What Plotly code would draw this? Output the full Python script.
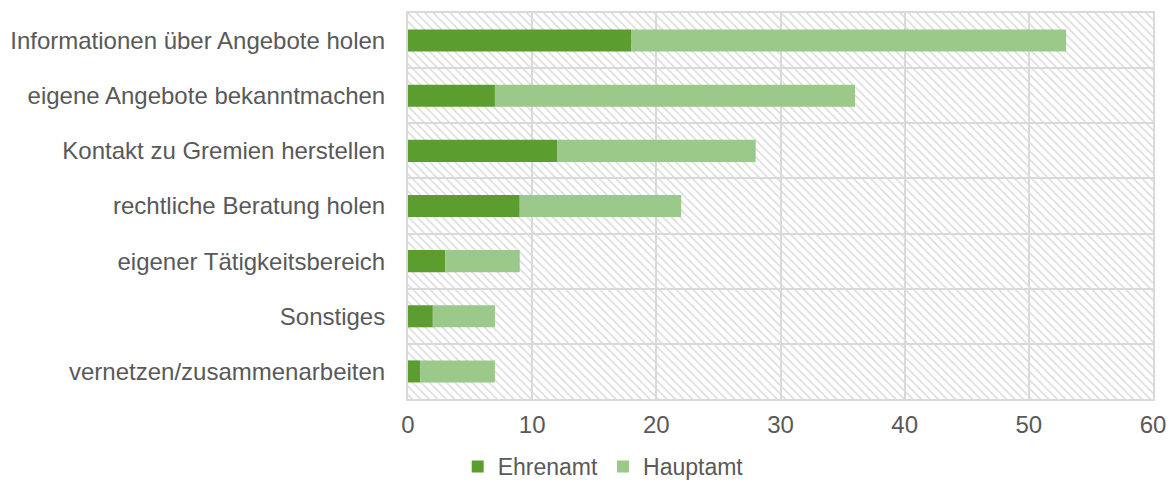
import plotly.graph_objects as go

categories = [
    "Informationen über Angebote holen",
    "eigene Angebote bekanntmachen",
    "Kontakt zu Gremien herstellen",
    "rechtliche Beratung holen",
    "eigener Tätigkeitsbereich",
    "Sonstiges",
    "vernetzen/zusammenarbeiten",
]
ehrenamt = [18, 7, 12, 9, 3, 2, 1]
hauptamt = [35, 29, 16, 13, 6, 5, 6]
x_ticks = [0, 10, 20, 30, 40, 50, 60]

XMAX = x_ticks[-1]
ypos = list(range(len(categories)))
GRID = "#D9D9D9"
TXT = "#595959"
FONT = "Liberation Sans, Arial, sans-serif"
FS = 24

fig = go.Figure()

# hatched plot background
fig.add_trace(go.Bar(
    y=ypos, x=[XMAX] * len(ypos), orientation="h", width=1,
    marker=dict(color="rgba(0,0,0,0)", line=dict(width=0),
                pattern=dict(shape="\\", fgcolor="#DADADA", size=6,
                             solidity=0.25, fillmode="replace")),
    showlegend=False, hoverinfo="skip",
))

fig.add_trace(go.Bar(
    y=ypos, x=ehrenamt, orientation="h", width=0.4, name="Ehrenamt",
    marker=dict(color="#5B9E2F", line=dict(width=0)),
))
fig.add_trace(go.Bar(
    y=ypos, x=hauptamt, base=ehrenamt, orientation="h", width=0.4, name="Hauptamt",
    marker=dict(color="#9BC98A", line=dict(width=0)),
))

fig.update_layout(
    width=1159, height=472,
    margin=dict(l=400, r=14, t=5, b=81, autoexpand=False),
    barmode="overlay",
    paper_bgcolor="white", plot_bgcolor="white",
    font=dict(family=FONT, size=FS, color=TXT),
    legend=dict(orientation="h", x=0.262, xanchor="center", y=-0.175, yanchor="middle",
                font=dict(size=23, color=TXT), traceorder="normal",
                itemwidth=30, tracegroupgap=0),
    xaxis=dict(range=[0, XMAX], tickvals=x_ticks, showgrid=True, gridcolor=GRID,
               gridwidth=2, zeroline=False, showline=True, linecolor=GRID,
               linewidth=2, mirror=True, ticks="", ticklabelstandoff=3,
               ticklabeloverflow="allow", automargin=False,
               tickfont=dict(size=FS, color=TXT)),
    yaxis=dict(range=[len(categories) - 0.5, -0.5], tickvals=ypos, ticktext=categories,
               showgrid=False, zeroline=False, showline=True, linecolor=GRID,
               linewidth=2, mirror=True, ticks="", ticklabelstandoff=16,
               automargin=False, tickfont=dict(size=FS, color=TXT),
               minor=dict(tickmode="array",
                          tickvals=[i - 0.5 for i in range(len(categories) + 1)],
                          showgrid=True, gridcolor=GRID, gridwidth=2, ticks="")),
)

fig.write_html("out.html")
